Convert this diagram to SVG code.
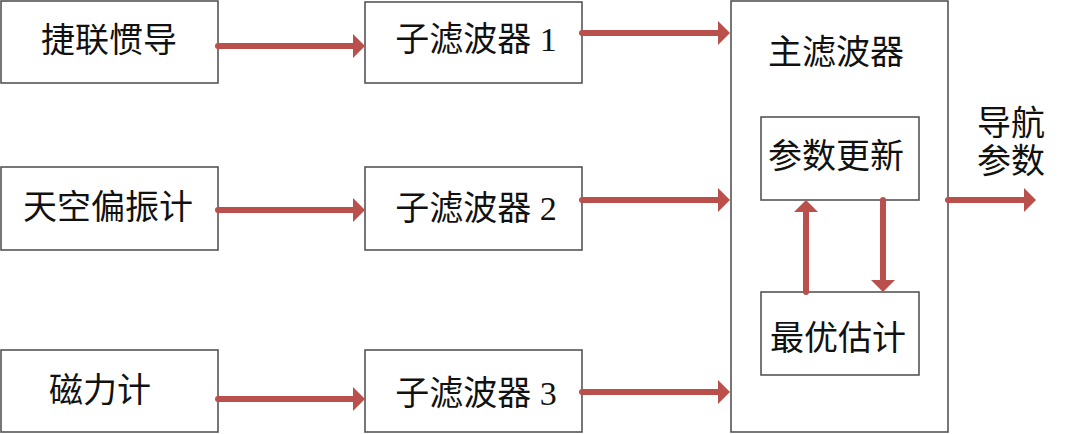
<svg xmlns="http://www.w3.org/2000/svg" width="1080" height="434" viewBox="0 0 1080 434">
<defs>
<style>
.box{fill:#fff;stroke:#555;stroke-width:1.6}
.t{font-family:"Liberation Serif","Noto Sans CJK SC",serif;font-size:34px;fill:#111;text-anchor:middle}
.c{stroke:#b9504c;stroke-width:6;fill:none;stroke-linecap:round}
</style>
<marker id="ah" viewBox="0 0 12 24" refX="0" refY="12" markerWidth="12" markerHeight="24" markerUnits="userSpaceOnUse" orient="auto">
<path d="M0,0 L12,12 L0,24 Z" fill="#b9504c"/>
</marker>
</defs>
<rect width="1080" height="434" fill="#fff"/>
<g id="sins"><rect class="box" x="1" y="1" width="217" height="82"/><text class="t" x="109" y="52">捷联惯导</text></g>
<g id="polar"><rect class="box" x="1" y="167" width="217" height="83"/><text class="t" x="108" y="219">天空偏振计</text></g>
<g id="mag"><rect class="box" x="1" y="350" width="217" height="82"/><text class="t" x="100" y="402">磁力计</text></g>
<g id="sub1"><rect class="box" x="365" y="2" width="217" height="81"/><text class="t" x="476" y="51">子滤波器 1</text></g>
<g id="sub2"><rect class="box" x="365" y="167" width="217" height="83"/><text class="t" x="476" y="220">子滤波器 2</text></g>
<g id="sub3"><rect class="box" x="365" y="350" width="217" height="82"/><text class="t" x="476" y="405">子滤波器 3</text></g>
<g id="main"><rect class="box" x="731" y="1" width="217" height="431"/><text class="t" x="836" y="64">主滤波器</text></g>
<g id="update"><rect class="box" x="761" y="117" width="158" height="83"/><text class="t" x="836" y="168">参数更新</text></g>
<g id="estimate"><rect class="box" x="761" y="292" width="158" height="83"/><text class="t" x="838" y="350">最优估计</text></g>
<g id="output"><text class="t" x="1011" y="135">导航</text><text class="t" x="1011" y="173">参数</text></g>
<g id="connectors">
<line class="c" x1="218" y1="46" x2="353" y2="46" marker-end="url(#ah)"/>
<line class="c" x1="218" y1="210" x2="353" y2="210" marker-end="url(#ah)"/>
<line class="c" x1="218" y1="399" x2="353" y2="399" marker-end="url(#ah)"/>
<line class="c" x1="582" y1="33" x2="718" y2="33" marker-end="url(#ah)"/>
<line class="c" x1="582" y1="200" x2="718" y2="200" marker-end="url(#ah)"/>
<line class="c" x1="582" y1="392" x2="718" y2="392" marker-end="url(#ah)"/>
<line class="c" x1="948" y1="200" x2="1024" y2="200" marker-end="url(#ah)"/>
<line class="c" x1="806" y1="292" x2="806" y2="212" marker-end="url(#ah)"/>
<line class="c" x1="883" y1="200" x2="883" y2="280" marker-end="url(#ah)"/>
</g>
</svg>
